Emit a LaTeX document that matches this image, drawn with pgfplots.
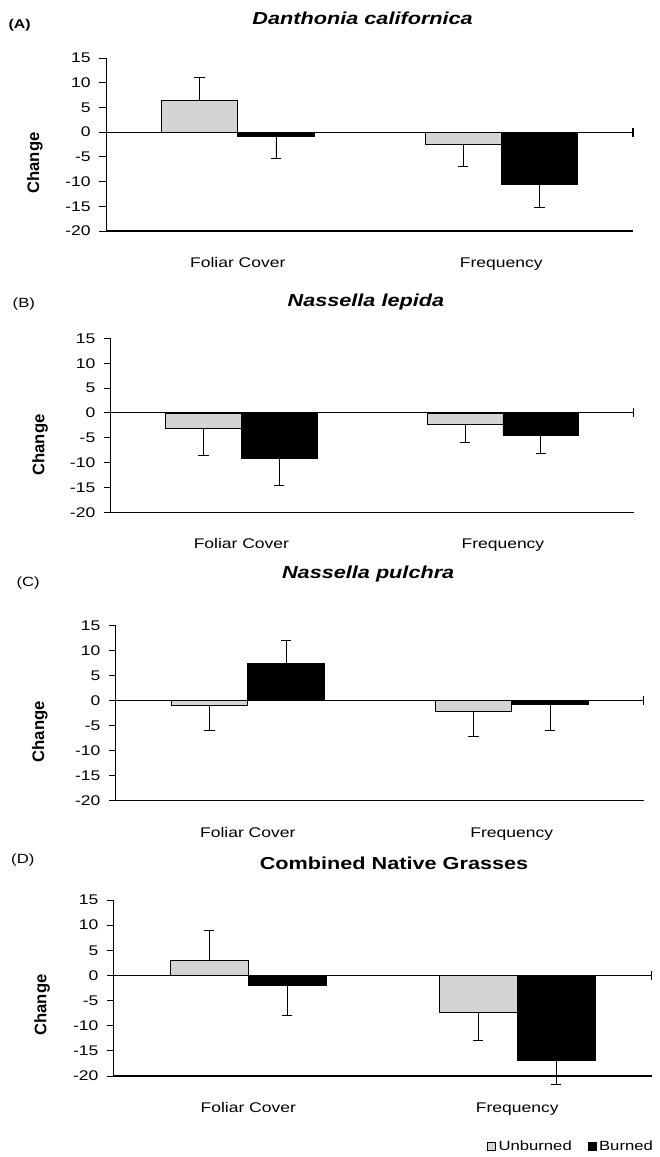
\documentclass[border=0pt]{standalone}
\usepackage{fontspec}
\setmainfont{Liberation Sans}[FakeStretch=1.25]
\newfontfamily\labfont{Liberation Sans}
\usepackage{pgfplots}
\pgfplotsset{compat=1.18}
\definecolor{unb}{gray}{0.83}

\pgfplotstableread{
x y e
0.5 6.4 4.7
1.5 -2.4 -4.6
}\AU
\pgfplotstableread{
x y e
0.5 -0.8 -4.5
1.5 -10.6 -4.7
}\AB
\pgfplotstableread{
x y e
0.5 -3.2 -5.4
1.5 -2.3 -3.6
}\BU
\pgfplotstableread{
x y e
0.5 -9.1 -5.4
1.5 -4.5 -3.6
}\BB
\pgfplotstableread{
x y e
0.5 -0.9 -5.0
1.5 -2.1 -5.0
}\CU
\pgfplotstableread{
x y e
0.5 7.5 4.6
1.5 -0.8 -5.1
}\CB
\pgfplotstableread{
x y e
0.5 3.0 5.9
1.5 -7.4 -5.6
}\DU
\pgfplotstableread{
x y e
0.5 -1.9 -6.0
1.5 -16.8 -4.9
}\DB

\pgfplotsset{
  panel/.style={
    scale only axis,
    anchor=south west,
    xmin=0, xmax=2, ymin=-20, ymax=15,
    axis x line=bottom, axis y line=left,
    x axis line style={-, line width=1pt},
    y axis line style={-, line width=0.6pt},
    ytick={-20,-15,...,15},
    xtick={0.5,1.5},
    xticklabels={Foliar Cover, Frequency},
    xtick style={draw=none},
    ytick style={line width=0.6pt, black},
    tick align=outside,
    major tick length=5pt,
    /pgf/number format/assume math mode=true,
    yticklabel style={font=\fontsize{10.5}{12}\selectfont, xshift=-3pt},
    xticklabel style={font=\fontsize{10.5}{12}\selectfont, anchor=base, yshift=-22.5pt},
    ylabel={Change},
    ylabel style={font=\labfont\bfseries\fontsize{12.5}{14}\selectfont, anchor=center},
    title style={font=\bfseries\itshape\fontsize{13}{15}\selectfont, anchor=center, yshift=-6pt},
    ybar=0pt, bar width=0.29,
    clip=false,
    error bars/y dir=plus, error bars/y explicit,
    error bars/error bar style={line width=0.6pt, black},
    error bars/error mark options={rotate=90, mark size=3.8pt, line width=0.6pt, black},
  },
  ubar/.style={fill=unb, draw=black, line width=0.5pt},
  bbar/.style={fill=black, draw=black, line width=0.5pt},
}

\newcommand\zeroline{%
  \draw[black, line width=0.8pt] (axis cs:0,0) -- (axis cs:2,0);
  \draw[black, line width=0.8pt] (axis cs:2,-0.9) -- (axis cs:2,0.9);}

\begin{document}
\begin{tikzpicture}
\path[use as bounding box] (0,0) rectangle (495pt,867.75pt);

% (A)
\begin{axis}[panel, at={(79.5pt,694.5pt)}, width=395.25pt, height=129.75pt,
  title={Danthonia californica},
  title style={at={(axis description cs:0.487,1.231)}},
  ylabel style={at={(axis description cs:-0.135,0.393)}}]
\addplot[ubar] table[x=x,y=y,y error plus=e] {\AU};
\addplot[bbar] table[x=x,y=y,y error plus=e] {\AB};
\zeroline
\node[font=\bfseries\fontsize{9.5}{11}\selectfont] at (axis description cs:-0.164,1.19) {(A)};
\end{axis}

% (B)
\begin{axis}[panel, at={(83pt,483.5pt)}, width=392.25pt, height=130.5pt,
  title={Nassella lepida},
  title style={at={(axis description cs:0.488,1.21)}},
  ylabel style={at={(axis description cs:-0.135,0.387)}}]
\addplot[ubar] table[x=x,y=y,y error plus=e] {\BU};
\addplot[bbar] table[x=x,y=y,y error plus=e] {\BB};
\zeroline
\node[font=\fontsize{10}{12}\selectfont] at (axis description cs:-0.166,1.195) {(B)};
\end{axis}

% (C)
\begin{axis}[panel, at={(86.85pt,267.2pt)}, width=396pt, height=131.25pt,
  title={Nassella pulchra},
  title style={at={(axis description cs:0.478,1.295)}},
  ylabel style={at={(axis description cs:-0.144,0.394)}}]
\addplot[ubar] table[x=x,y=y,y error plus=e] {\CU};
\addplot[bbar] table[x=x,y=y,y error plus=e] {\CB};
\zeroline
\node[font=\fontsize{10}{12}\selectfont] at (axis description cs:-0.166,1.244) {(C)};
\end{axis}

% (D)
\begin{axis}[panel, at={(85.3pt,60.75pt)}, width=403.5pt, height=132pt,
  title={Combined Native Grasses},
  title style={at={(axis description cs:0.521,1.21)}, font=\bfseries\fontsize{13}{15}\selectfont},
  ylabel style={at={(axis description cs:-0.133,0.403)}},
  legend columns=2,
  legend style={draw=none, fill=none, at={(axis description cs:1.015,-0.40)}, anchor=east,
    font=\fontsize{10}{12}\selectfont,
    /tikz/every even column/.append style={column sep=10pt}},
  legend image code/.code={\draw[#1, line width=0.5pt] (0pt,-3pt) rectangle (6pt,3pt);}]
\addplot[ubar] table[x=x,y=y,y error plus=e] {\DU};
\addlegendentry{Unburned}
\addplot[bbar] table[x=x,y=y,y error plus=e] {\DB};
\addlegendentry{Burned}
\zeroline
\node[font=\fontsize{10}{12}\selectfont] at (axis description cs:-0.169,1.227) {(D)};
\end{axis}
\end{tikzpicture}
\end{document}
